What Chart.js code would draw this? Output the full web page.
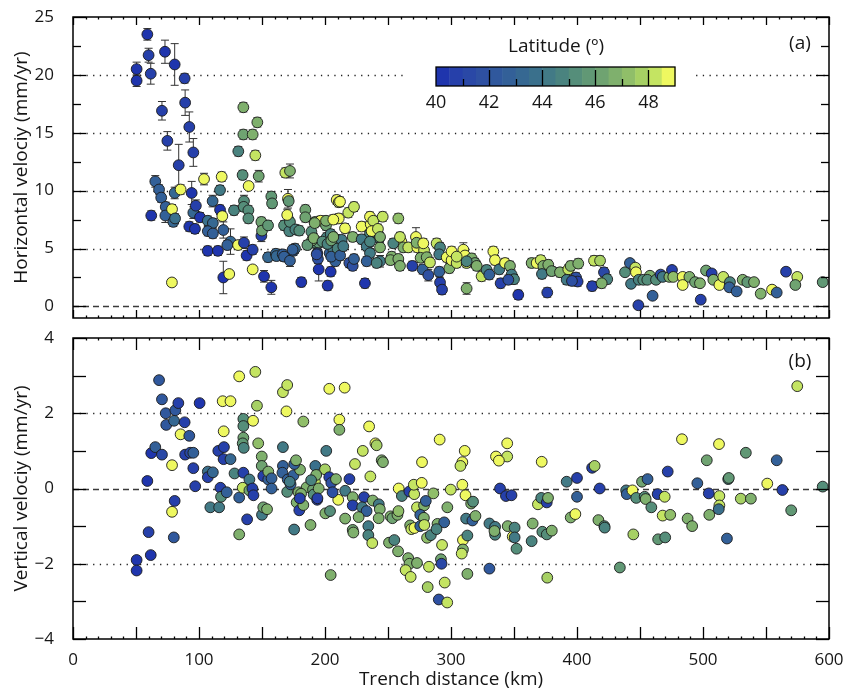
<!DOCTYPE html>
<html>
<head>
<meta charset="utf-8">
<script src="https://cdn.jsdelivr.net/npm/chart.js@4.4.0/dist/chart.umd.min.js"></script>
<style>
  body { margin: 0; background: #fff; }
  #wrap { position: relative; width: 845px; height: 692px; }
  #wrap canvas { position: absolute; left: 0; }
</style>
</head>
<body>
<div id="wrap">
  <canvas id="cTop" width="845" height="325" style="top:0"></canvas>
  <canvas id="cBot" width="845" height="367" style="top:325px"></canvas>
</div>
<script>
// ---- (a) horizontal velocity: distance (km), velocity (mm/yr), error, latitude
const hDist = [
  50.5,50.5,59,60,61.7,73,80.7,88.6,89,70.6,92.3,74.9,95.5,83.9,65.3,68.3,70,73.6,73.3,62.1,78.6,80.7,85.4,79.6,81,78.5,92.3,94.2,95.5,97.5,96.8,
  100.8,104,106.9,107,111,110.8,116.7,118,116.7,118.5,119.3,115,119.3,124,125,122.5,127.8,131,131.2,135.2,135.2,142.6,146.3,144.7,134.6,147.4,139.4,135.7,135.5,139.2,139.2,135.7,137.8,142.6,142.6,107,111,
  151.6,157.4,149.5,149.5,150,154.8,157.4,158,154.8,161,161.5,167.5,171.7,172.2,176.5,179.6,166.4,167.5,172.2,174.9,176.2,168.5,172.2,170.6,171.2,170,181.2,184.4,184.4,192.3,189.2,196.6,189.9,192.3,195,193.9,194.4,195,200.8,201.3,204.5,203.7,204.5,202.1,208.7,206.6,208.2,209.3,210.9,210.9,189.7,193.4,200.8,174.3,191.8,186,191,198,202,205,205,210,212,
  211.9,206.6,218.5,223,215.9,222,213.2,214.5,219.3,222,223,229.1,236.3,235.7,238.3,235.7,229.1,233.1,235.7,233.1,231.7,245.8,243.1,243.7,243.7,241,258.2,252.9,252,258.2,259.5,260.6,262.2,266.1,269.3,272.2,273.3,272.7,278.6,275.9,280.7,277.5,282,283.3,288.6,291.3,290.7,296.6,291.3,292.9,290.7,298.7,300.5,304.5,309.8,311.1,312.4,316.4,319,320.4,312.4,324.3,237,242,206.6,243.7,235.7,254.2,259.5,278,300.5,304.5,312.4,328.3,
  330.4,333.6,334.9,338.3,339.4,342.9,346.8,348.1,350,345.5,353.4,364,368,371.2,373.3,372.2,377.2,379.9,386.5,376.4,393.1,391.8,395,401,399.2,400.5,396,413.5,418.3,412,421.4,424,419.6,438.1,442,446.3,446.8,442.9,449,452.6,457.9,455.8,460,448.7,462.7,466.4,468,473.3,475.4,476.4,483.9,483.9,489.2,493.7,497.6,498.2,502.4,506.9,508.2,513,516.1,521.4,520.9,526.7,531.5,535.2,540.5,545.8,554.8,558.5,565.9,574.8,573.3,595
];
const hVel = [
  20.5,19.5,23.5,21.7,20.1,22.0,20.9,19.7,17.6,16.9,15.5,14.3,13.3,12.2,10.8,10.1,9.4,8.6,7.85,7.85,8.4,9.8,10.1,7.3,7.6,2.07,6.9,9.8,8.1,8.7,6.7,
  7.7,11.0,4.8,7.4,7.2,9.1,10.05,11.2,8.35,7.8,6.6,4.8,2.5,2.8,5.6,5.3,8.3,5.3,13.4,17.2,14.85,14.85,15.9,13.05,11.35,11.25,10.4,9.1,8.6,8.3,7.6,5.5,4.4,4.9,3.2,6.5,6.3,
  2.6,1.65,6.1,7.3,6.55,7.0,9.5,8.9,4.25,4.55,4.35,7.0,6.5,7.3,6.65,6.55,4.5,4.3,3.95,4.8,5.0,11.55,11.7,9.3,9.1,7.9,2.1,8.35,7.7,7.3,6.45,7.4,5.5,5.5,5.5,4.6,4.1,3.2,7.0,5.95,6.25,4.6,3.0,1.8,5.8,4.9,3.9,9.2,7.6,9.0,5.7,4.5,7.4,4.9,7.2,5.3,5.9,5.6,5.4,5.7,4.3,5.0,4.4,
  9.05,7.5,8.1,8.6,6.75,6.0,5.75,5.2,3.75,3.5,4.1,6.9,7.1,7.75,7.4,6.3,5.8,5.2,4.6,3.9,2.0,7.75,5.9,5.1,3.9,3.75,7.6,4.3,4.0,4.1,3.5,5.6,5.1,5.1,3.5,6.0,5.1,5.5,4.85,4.2,4.25,3.2,2.7,3.8,5.45,5.1,4.5,4.25,2.07,1.45,3.0,3.3,4.0,3.75,4.9,4.4,3.75,4.15,3.75,3.5,1.55,2.6,6.5,6.7,6.0,6.0,5.6,5.45,6.0,5.45,4.75,4.3,3.9,3.15,
  2.75,4.75,4.0,3.2,2.0,3.75,3.5,2.75,2.35,2.3,1.0,3.75,3.75,4.0,3.5,2.8,3.6,3.05,2.95,1.2,3.2,2.3,3.5,3.7,2.5,2.15,2.2,3.95,3.95,1.75,2.95,2.35,2.0,2.95,3.75,3.35,2.95,1.95,2.3,2.3,2.65,2.3,0.92,0.1,2.3,2.75,2.55,2.55,3.15,2.55,2.55,1.85,2.55,2.1,2.0,0.58,3.1,2.85,2.3,1.85,2.55,2.1,1.65,1.3,2.3,2.1,2.1,1.1,1.45,1.2,3.0,2.55,1.85,2.1
];
const hErr = [
  0.6,0.5,0.5,0.6,0.9,1.0,1.8,0.4,1.1,0.8,1.3,0.8,1.2,1.8,0.5,0.4,0.4,0.4,0.6,0.4,0.4,0.5,0.4,0.4,0.4,0.3,0.4,1.0,0.5,0.5,0.4,
  0.4,0.5,0.4,0.4,0.4,0.5,0.4,0.4,0.4,0.4,0.7,0.4,1.4,0.3,1.1,0.4,0.4,0.3,0.4,0.4,0.4,0.4,0.4,0.4,0.4,0.5,0.3,0.5,0.4,0.4,0.4,0.5,0.4,0.4,0.3,0.4,0.4,
  0.5,0.6,0.5,0.4,0.4,0.4,0.4,0.4,0.4,0.4,0.4,0.4,0.4,0.4,0.4,0.4,0.4,0.4,0.5,0.4,0.4,0.4,0.6,0.8,0.4,0.5,0.4,0.4,0.4,0.4,0.4,0.4,0.4,0.4,0.4,0.4,0.4,1.0,0.4,0.4,0.4,0.4,0.4,0.4,0.4,0.4,0.4,0.4,0.4,0.4,0.4,0.4,0.4,0.4,0.4,0.4,0.4,0.4,0.4,0.4,0.4,0.4,0.4,
  0.4,0.4,0.4,0.4,0.4,0.4,0.4,0.4,0.4,0.4,0.4,0.4,0.5,0.4,0.4,0.4,0.4,0.4,0.4,0.4,0.4,0.4,0.4,0.4,0.5,0.4,0.4,0.4,0.4,0.4,0.4,0.4,0.4,0.4,0.4,0.8,0.4,0.4,0.4,0.4,0.4,0.4,0.5,0.4,0.4,0.4,0.4,0.4,0.4,0.4,0.4,0.4,0.4,0.4,0.6,0.4,0.4,0.4,0.4,0.4,0.5,0.4,0.4,0.4,0.4,0.4,0.4,0.4,0.4,0.4,0.4,0.4,0.4,0.4,
  0.4,0.4,0.4,0.4,0.4,0.4,0.4,0.4,0.4,0.4,0.4,0.4,0.4,0.4,0.4,0.4,0.4,0.4,0.4,0.4,0.4,0.4,0.4,0.4,0.4,0.4,0.4,0.4,0.4,0.4,0.4,0.4,0.4,0.3,0.3,0.3,0.3,0.3,0.3,0.3,0.3,0.3,0.3,0.3,0.3,0.3,0.3,0.3,0.3,0.3,0.3,0.3,0.3,0.3,0.3,0.3,0.3,0.3,0.3,0.3,0.3,0.3,0.3,0.3,0.3,0.3,0.3,0.3,0.3,0.3,0.3,0.3,0.3,0.3
];
const hLat = [
  40.3,40.3,40.3,40.5,40.5,40.3,40.3,40.5,40.5,40.8,40.5,40.5,40.5,40.5,42.5,42.5,42.5,42.5,42.5,40.3,48.8,43,48.8,43,43.5,48.8,40.3,40.3,43,40.5,40.3,
  40.3,48.8,40.3,43.5,43,43,44,48.8,40.3,48.8,42.8,40.3,40.3,48.8,43,42.8,44.5,48.8,44.5,46.5,46.2,46.5,46.8,48.2,45,46.2,48.8,45,45,45,45,40.5,40.3,40.5,48.8,42.8,42.8,
  40.3,40.3,40.5,46.2,46.2,45.8,45.8,45.8,43,43,43,45,44.5,45,44.5,45,42.8,42.8,42.8,42.8,43,48.2,46.5,48.8,45.5,48.8,40.3,46.2,46.2,46.5,45,48.8,46.2,45,45.5,41.5,41.5,40.3,46.2,44.5,44.5,42.8,40.3,40.3,46.5,44.3,42.8,48.8,48.8,48.2,46.5,41.5,46.5,42.8,46.5,45.5,46.5,45,44.5,46,42.5,44.5,42.8,
  48.8,48.8,48.2,48.2,48.8,46.5,44.3,44.3,41.5,41.5,42.8,48.8,48.8,48.8,48.2,44.5,44.3,44.3,44,42.8,40.3,48.2,44.5,46.5,44.3,44.5,47,46.5,46.5,46.8,46.5,48.8,46.8,48.2,40.5,48.8,48.8,46.8,48.2,46.8,46.8,42.5,41.5,48,48.2,44.5,44.3,48.8,40.5,40.5,42.8,46.5,48.8,48.2,48.8,48.8,48.2,46.5,46.2,46.5,46.8,48,48.8,48.2,46.5,46.8,44.8,44.5,48.2,48.5,48.8,48.2,44.8,44.8,
  42.8,48.8,48.8,44.3,40.8,48.8,46.5,44.3,44.5,41.5,40.3,46.5,48.8,48.2,46.5,44.3,46.5,46,46.5,40.5,48,44.3,46.5,46.5,41.5,40.8,41.5,48,47.8,40.5,41,44.5,46.5,45.2,42.8,48,48.5,44.3,44.5,45.2,46.5,45,42.8,40.5,45.2,41,44.3,46.5,40.5,47,48.8,48.8,46.5,46.2,46.8,40.5,46,40.5,46.8,48.8,48,44.8,42.8,42.8,46.5,45.5,46.5,46.5,48.8,42.5,40.5,48,46,45.5
];

// ---- (b) vertical velocity: distance (km), velocity (mm/yr), latitude
const vDist = [
  50.5,50.5,59,60,61.7,62.1,65.3,70.6,68.3,70.6,73.6,74,80.2,81.2,83.6,78.6,80.7,78.6,80,85.4,88.6,92.3,89,93,95.5,95.5,97,
  100.5,107,107,111,109,116,117,117.5,122,115.3,119.8,119.5,125,119.6,118.8,125,128.2,131.9,131.9,131.9,135.2,135.2,135.2,134.7,135.5,135.2,134.7,140,140,142.4,143.2,142.9,144.7,146,147,149.8,149.8,151,155,155,157.6,157.6,150,151,154,138.2,
  166.6,166.6,170,169.4,166.6,166.2,170.4,170,172.7,175,180.2,175.5,177.5,179.6,182.8,182.8,185.4,188.5,192.3,192,190.5,191,193.8,195,200,201,200.3,204,203.4,205,203.4,211.4,211.4,210.5,206,204.5,172,175.6,177,193,189,179,181,180,194,208.7,
  215.6,235,240,241,230,223.8,245,246,236,291,310.9,309,307.5,277,335.7,309,219.4,216,222,222,231,237.9,242.7,243.5,229.5,233,226.7,216,242.6,234.4,234.4,237.5,222,222.5,252,253.5,257.5,258.3,250.8,255,258,258.5,261,267,270.8,270.5,276.8,266,267,264,268,273,267.6,268.5,271,273,278.6,275.6,278.5,280,275.6,278.8,281,286,284,289.3,294.6,288.5,282.5,292.9,292,292.5,281.5,295,290.3,297,297.1,299.8,309.5,309.5,308.5,311.5,312,316,317.5,317,319.4,313,313,330.5,335,335,334.5,330.5,338.9,
  343.6,348,344.6,344.6,338,345,349,350.5,350.5,352,364.8,364,369,371.6,376,377,372,372.5,376,380,376.4,391.8,400,400,395,398.7,
  574.8,483.3,512.7,534,558.5,503,412,414,418,439,439.5,444,447,451.6,456,453.7,454.5,459,464,469.6,472,468,474,464.4,470,444.7,417,421.7,422,434,487.8,491.4,495.5,504.6,505,513,513,512.5,520,520.5,519,530,538,551,563,570,595
];
const vVel = [
  -1.9,-2.18,0.2,-1.16,-1.77,0.94,1.1,0.9,2.88,2.37,2.0,1.69,1.8,2.08,2.27,0.62,-0.33,-0.62,-1.3,1.44,1.76,1.4,0.9,0.95,0.95,0.54,0.06,
  2.27,0.45,0.3,0.43,-0.5,-0.5,0.02,-0.22,-0.1,1.0,1.1,0.78,0.78,1.52,2.32,2.32,0.4,-0.24,-1.22,2.98,1.85,1.66,1.35,1.2,1.08,0.42,0.02,0.24,-0.05,0.0,-0.18,1.8,3.1,2.2,1.2,0.85,0.6,0.33,0.24,0.45,0.27,0.0,-0.7,-0.5,-0.55,-0.82,
  1.1,2.56,2.75,2.05,0.6,0.42,0.24,-0.09,0.11,0.35,0.5,-1.09,-0.37,-0.58,-0.44,1.78,0.03,-0.97,0.6,0.18,-0.03,-0.16,-0.3,0.0,0.51,1.0,-0.66,-0.6,0.3,0.15,2.65,1.83,1.56,-0.3,-0.1,-2.3,0.18,0.65,0.75,0.36,0.22,-0.1,-0.14,-0.26,-0.26,0.25,
  2.68,1.65,1.2,1.15,1.0,0.65,0.75,0.7,0.32,1.3,1.0,0.7,0.6,0.7,0.85,0.1,0.25,-0.06,-0.23,-0.45,-0.23,-0.32,-0.42,-0.55,-0.5,-0.6,-0.76,-0.8,-0.79,-1.0,-1.24,-1.45,-1.1,-1.17,-0.74,-0.79,-0.7,-0.6,-1.44,-1.37,-1.67,0.0,-0.2,-0.08,-0.15,0.1,0.15,-1.85,-2.0,-2.17,-2.35,-1.98,-0.98,-1.08,-1.05,-0.5,-0.45,-0.7,-0.78,-0.33,-1.0,-0.97,-1.31,-0.13,-1.24,-0.94,-0.9,-1.08,-2.08,-1.5,-1.88,-2.0,-2.62,-2.5,-2.95,-3.03,-0.5,-0.03,-1.37,-1.62,-1.73,-0.18,-0.8,-0.4,-0.35,-0.85,-0.73,-2.27,-1.25,-0.93,-1.02,-1.23,-1.13,-2.13,0.0,
  -0.2,-0.18,1.2,0.85,0.74,-1.0,-1.28,-1.04,-1.3,-1.6,-0.93,-1.4,-0.42,-0.25,-0.37,-0.25,0.71,-1.15,-1.22,-1.12,-2.37,0.18,0.28,-0.22,-0.77,-0.68,
  2.72,1.31,1.18,0.95,0.75,0.75,0.55,0.6,0.0,-0.05,-0.15,-0.05,-0.25,0.18,0.25,-0.22,-0.28,-0.5,-0.15,-0.22,0.45,-0.72,-0.7,-1.35,-1.3,-1.22,-0.84,-1.0,-1.04,-2.1,-0.8,-1.0,0.14,-0.13,-0.7,-0.2,-0.45,-0.55,0.25,0.28,-1.33,-0.27,-0.27,0.13,-0.04,-0.58,0.05
];
const vLat = [
  40.3,40.3,40.3,40.5,40.3,40.3,42.5,41.2,42,42.2,42.2,42,43,42.2,40.5,48.8,40.5,48.8,42.2,48.8,40.5,42.2,40.8,41,42.8,40.5,40.5,
  40.3,43.5,40.5,43,44,44.3,40.5,45.2,42.5,40.5,40.5,40.5,43,48.8,48.8,48.5,44.5,42.8,46.5,48.8,45,45.2,46,45.5,44.5,40.8,48,44.3,46,40.5,40.5,48.8,48,47.5,47,46.5,46,40.8,42.5,46.5,42.8,42.8,44.3,46.2,46.8,40.5,
  44.3,48,48,48.8,42.8,42.5,42.8,45.2,42.8,42.8,46.5,44.3,46.5,40.5,46.8,47,46.5,46.5,43.5,48,46.2,45.2,40.8,46.5,47.5,44.3,46.5,45.2,40.5,41.5,48.8,48.8,46.8,48.8,41.5,46.5,44.3,42.8,46.5,46.5,44.5,46.5,46.5,40.5,40.5,46.5,
  48.8,48.8,48.5,47.5,48.2,48.2,46.8,46.5,48.2,48.8,48.8,48.8,48.2,48.8,48.8,48.8,40.5,44.3,46.5,40.5,40.5,46.5,44.3,46.8,44,42.5,46.5,46.5,46.8,44.3,44.5,48,46.2,46.5,46.5,46,46.8,47,46.5,44.8,46.8,48.8,44.5,40.5,48.2,48.2,48.8,46.5,46.5,48,48,46.8,46.5,48,48.8,48.2,46.5,42.5,46.5,42.8,42.8,48,47,47,44.8,46.5,42.8,44.5,48,48,46,41.2,47.5,48,41.5,48.2,46.8,48.2,48.8,46.8,48.2,48.8,44.3,46.5,45,42.8,46.8,46.5,44.5,44.3,44.3,44.5,46.5,42,40.8,
  40.8,40.8,48.8,48.2,48.8,46.8,48.8,44.5,44.3,45.2,46.5,44.5,48.2,44.8,40.8,46.5,48.8,45,45.2,46.8,47.5,44.3,40.8,42.5,46.8,48.8,
  48,48.8,48.8,45.5,42.5,46,40.8,47.5,40.8,44.3,42.8,48.8,45.2,46,42.8,45.2,46.5,45.2,40.8,48,40.5,48,47,45.5,45.2,47.5,46.8,45,44.5,45.5,46.8,46.5,42.8,40.5,46.5,48,48,43.5,44.5,45.5,42.8,47.5,46.8,48.8,40.5,45.5,45.2
];

// axis ticks
const xTicks = [0, 100, 200, 300, 400, 500, 600];
const hTicks = [0, 5, 10, 15, 20, 25];
const vTicks = [-4, -2, 0, 2, 4];
const latTicks = [40, 42, 44, 46, 48];

// colour bar: 18 steps of 0.5 degree from 40 to 49
const cbColors = ['#1f35ad','#2640aa','#2a48a6','#2e50a2','#30589d','#336098','#366892','#3a708c',
  '#427a86','#4a837f','#558e7a','#619875','#6fa371','#7fb06d','#90be69','#a6d064','#c4e462','#eef860'];
function latColor(lat) {
  let i = Math.floor((lat - 40) / 0.5);
  i = Math.max(0, Math.min(cbColors.length - 1, i));
  return cbColors[i];
}

const FONT = '"Open Sans", "DejaVu Sans", sans-serif';
const INK = '#161616';

function hline(ctx, x1, x2, y) { ctx.beginPath(); ctx.moveTo(x1, y); ctx.lineTo(x2, y); ctx.stroke(); }
function vline(ctx, x, y1, y2) { ctx.beginPath(); ctx.moveTo(x, y1); ctx.lineTo(x, y2); ctx.stroke(); }

function drawLegend(ctx) {
  const x0 = 436, x1 = 675, y0 = 67, y1 = 86;
  ctx.fillStyle = '#fff';
  ctx.fillRect(404, 28, 290, 88);
  ctx.fillStyle = INK;
  ctx.font = '19px ' + FONT;
  ctx.textAlign = 'center';
  ctx.textBaseline = 'middle';
  ctx.fillText('Latitude (º)', 556, 47);
  const w = (x1 - x0) / cbColors.length;
  cbColors.forEach((c, i) => {
    ctx.fillStyle = c;
    ctx.fillRect(x0 + i * w, y0, w + 0.5, y1 - y0);
  });
  ctx.strokeStyle = '#000';
  ctx.lineWidth = 1.3;
  ctx.strokeRect(x0, y0, x1 - x0, y1 - y0);
  for (let v = 41; v <= 48; v++) {
    const px = Math.round(x0 + (v - 40) / 9 * (x1 - x0)) + 0.5;
    vline(ctx, px, y1, v % 2 === 0 ? y0 + 3 : y1 - 7);
  }
  ctx.fillStyle = INK;
  ctx.font = '18px ' + FONT;
  latTicks.forEach(v => {
    ctx.fillText(String(v), x0 + (v - 40) / 9 * (x1 - x0), 103);
  });
}

const panelPlugin = {
  id: 'panel',
  beforeDatasetsDraw(chart, args, o) {
    const { ctx, chartArea: a, scales: { x, y } } = chart;
    ctx.save();
    ctx.strokeStyle = '#222';
    ctx.lineWidth = 1.3;
    ctx.setLineDash([1.3, 5.4]);
    o.dotted.forEach(v => hline(ctx, a.left, a.right, Math.round(y.getPixelForValue(v)) + 0.5));
    ctx.setLineDash([6, 4]);
    ctx.strokeStyle = '#3a3a3a';
    hline(ctx, a.left, a.right, Math.round(y.getPixelForValue(0)) + 0.5);
    ctx.setLineDash([]);
    if (o.legend) drawLegend(ctx);
    if (o.errors) {
      ctx.strokeStyle = '#333';
      ctx.lineWidth = 1;
      o.errors.forEach((e, i) => {
        if (!e) return;
        const px = x.getPixelForValue(o.xs[i]);
        const top = y.getPixelForValue(o.ys[i] + e);
        const bot = y.getPixelForValue(o.ys[i] - e);
        vline(ctx, px, top, bot);
        hline(ctx, px - 4, px + 4, top);
        hline(ctx, px - 4, px + 4, bot);
      });
    }
    ctx.restore();
  },
  afterDatasetsDraw(chart, args, o) {
    const { ctx, chartArea: a, scales: { x, y } } = chart;
    ctx.save();
    ctx.strokeStyle = '#000';
    ctx.lineWidth = 1.3;
    // inward ticks
    for (let v = 0; v <= 600; v += 10) {
      const px = Math.round(x.getPixelForValue(v)) + 0.5;
      const len = v % 50 === 0 ? o.xTick : 2.5;
      vline(ctx, px, a.top, a.top + len);
      vline(ctx, px, a.bottom, a.bottom - len);
    }
    for (let v = o.yMinor[0]; v <= o.yMinor[1] + 1e-9; v += o.yMinor[2]) {
      const py = Math.round(y.getPixelForValue(v)) + 0.5;
      const major = Math.abs(v / o.yMajor - Math.round(v / o.yMajor)) < 1e-6;
      const len = major ? 13 : o.yMinorLen;
      hline(ctx, a.left, a.left + len, py);
      hline(ctx, a.right, a.right - len, py);
    }
    ctx.lineWidth = 1.5;
    ctx.strokeRect(a.left, a.top, a.right - a.left, a.bottom - a.top);
    // texts
    ctx.fillStyle = INK;
    ctx.font = '19px ' + FONT;
    ctx.textAlign = 'center';
    ctx.textBaseline = 'middle';
    ctx.fillText(o.tag, 800, o.tagY);
    if (o.xTitle) ctx.fillText(o.xTitle, (a.left + a.right) / 2, o.xTitleY);
    ctx.translate(22, (a.top + a.bottom) / 2);
    ctx.rotate(-Math.PI / 2);
    ctx.fillText(o.yTitle, 0, 0);
    ctx.restore();
  }
};

function points(xs, ys) {
  return xs.map((v, i) => ({ x: v, y: ys[i] }));
}

function tickFmt(v) {
  return v < 0 ? '\u2212' + Math.abs(v) : String(v);
}

function makeChart(id, cfg) {
  return new Chart(document.getElementById(id), {
    type: 'scatter',
    data: {
      datasets: [{
        data: points(cfg.xs, cfg.ys),
        pointRadius: 5.4,
        pointHoverRadius: 5.4,
        pointBorderWidth: 0.9,
        pointBorderColor: '#1b1b1b',
        pointBackgroundColor: cfg.lats.map(latColor)
      }]
    },
    options: {
      responsive: false,
      animation: false,
      events: [],
      layout: { padding: cfg.padding },
      plugins: {
        legend: { display: false },
        tooltip: { enabled: false },
        panel: cfg.panel
      },
      scales: {
        x: {
          type: 'linear', min: 0, max: 600,
          display: cfg.showX,
          grid: { display: false },
          border: { display: false },
          afterBuildTicks: s => { s.ticks = xTicks.map(v => ({ value: v })); },
          afterFit: s => {
            s.height = cfg.showX ? 53 : 0;
            s.paddingLeft = 0; s.paddingRight = 0;
          },
          ticks: { display: cfg.showX, padding: 3, color: INK, font: { family: FONT, size: 17 } }
        },
        y: {
          type: 'linear', min: cfg.yMin, max: cfg.yMax,
          grid: { display: false },
          border: { display: false },
          afterBuildTicks: s => { s.ticks = cfg.yTicks.map(v => ({ value: v })); },
          afterFit: s => {
            s.width = 73;
            s.paddingTop = 0; s.paddingBottom = 0;
          },
          ticks: { padding: 11, color: INK, font: { family: FONT, size: 17 }, callback: tickFmt }
        }
      }
    },
    plugins: [panelPlugin]
  });
}

makeChart('cTop', {
  xs: hDist, ys: hVel, lats: hLat,
  yMin: -1, yMax: 25, yTicks: hTicks, showX: false,
  padding: { left: 0, right: 16, top: 17, bottom: 7 },
  panel: {
    dotted: [5, 10, 15, 20], legend: true,
    errors: hErr, xs: hDist, ys: hVel,
    xTick: 8, yMinor: [0, 25, 2.5], yMajor: 5, yMinorLen: 8,
    tag: '(a)', tagY: 44, yTitle: 'Horizontal velociy (mm/yr)'
  }
});

makeChart('cBot', {
  xs: vDist, ys: vVel, lats: vLat,
  yMin: -4, yMax: 4, yTicks: vTicks, showX: true,
  padding: { left: 0, right: 16, top: 13, bottom: 0 },
  panel: {
    dotted: [-2, 2], legend: false,
    xTick: 12, yMinor: [-4, 4, 1], yMajor: 1, yMinorLen: 13,
    tag: '(b)', tagY: 37, yTitle: 'Vertical velociy (mm/yr)',
    xTitle: 'Trench distance (km)', xTitleY: 355
  }
});
</script>
</body>
</html>
